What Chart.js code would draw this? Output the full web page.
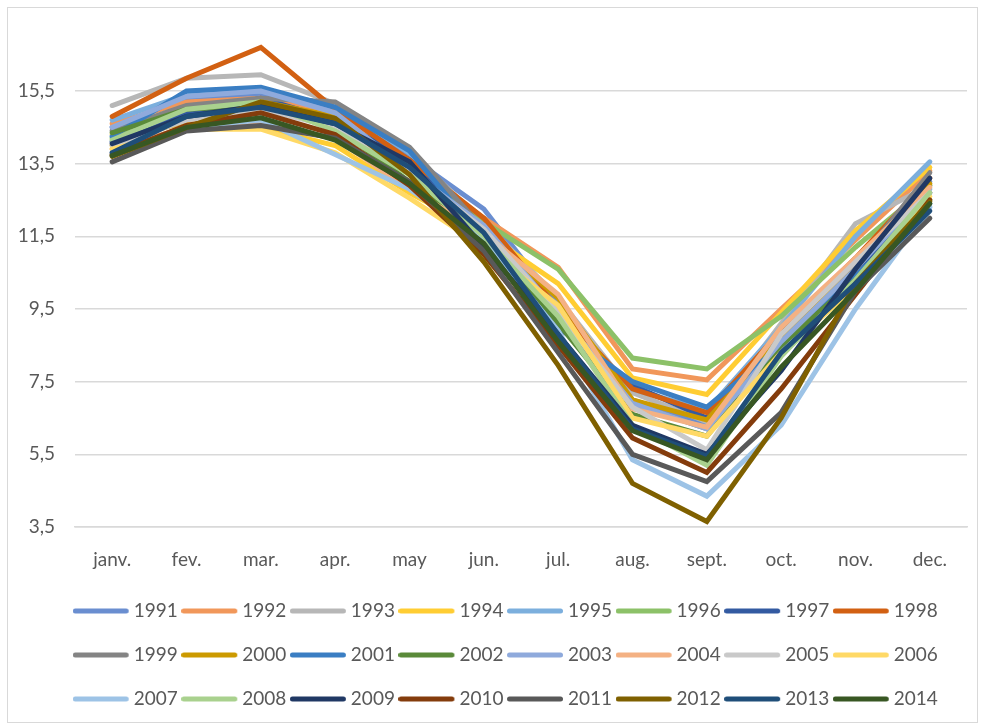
<!DOCTYPE html>
<html>
<head>
<meta charset="utf-8">
<script src="https://cdn.jsdelivr.net/npm/chart.js@4.4.1/dist/chart.umd.min.js"></script>
<style>
body{margin:0;background:#fff;}
#wrap{position:relative;width:984px;height:724px;}
#myChart{position:absolute;left:0;top:0;}
#marco{position:absolute;left:7px;top:7px;width:971px;height:716px;border:1px solid #D9D9D9;box-sizing:border-box;pointer-events:none;}
</style>
</head>
<body>
<div id="wrap">
  <canvas id="myChart" width="984" height="724"></canvas>
  <div id="marco"></div>
</div>
<script>
var meses = ['janv.', 'fev.', 'mar.', 'apr.', 'may', 'jun.', 'jul.', 'aug.', 'sept.', 'oct.', 'nov.', 'dec.'];
var anios = ['1991','1992','1993','1994','1995','1996','1997','1998','1999','2000','2001','2002',
             '2003','2004','2005','2006','2007','2008','2009','2010','2011','2012','2013','2014'];
var colores = ['#6A8ED0','#F1975A','#B7B7B7','#FFCD33','#7CAFDD','#8CC168','#335AA1','#D26012',
               '#848484','#CC9A00','#3A7EC3','#5A8A39','#8FAADC','#F4B183','#C9C9C9','#FFD966',
               '#9DC3E6','#A9D18E','#203864','#843C0C','#595959','#7F6000','#1F4E79','#385723'];
var ticksY = [3.5, 5.5, 7.5, 9.5, 11.5, 13.5, 15.5];

var v1991 = [14.5, 15.3, 15.4, 15.0, 13.7, 12.25, 9.6, 7.0, 6.3, 8.9, 10.8, 13.0];
var v1992 = [14.6, 15.2, 15.3, 14.9, 13.5, 12.0, 10.65, 7.85, 7.55, 9.5, 11.4, 13.3];
var v1993 = [15.1, 15.85, 15.95, 15.15, 13.8, 11.9, 9.8, 7.2, 6.4, 9.1, 11.85, 12.9];
var v1994 = [14.3, 14.6, 14.5, 14.0, 12.7, 11.6, 10.2, 7.6, 7.15, 9.4, 11.65, 13.4];
var v1995 = [14.7, 15.4, 15.5, 15.1, 13.8, 11.8, 9.3, 7.3, 6.7, 9.0, 11.5, 13.55];
var v1996 = [14.2, 14.9, 15.1, 14.6, 13.4, 11.9, 10.6, 8.15, 7.85, 9.3, 11.2, 12.9];
var v1997 = [14.1, 14.9, 15.3, 14.7, 13.6, 11.5, 9.0, 7.4, 6.5, 8.6, 10.5, 12.7];
var v1998 = [14.8, 15.85, 16.7, 15.0, 13.6, 12.0, 9.5, 7.3, 6.65, 8.9, 10.9, 13.1];
var v1999 = [14.4, 15.1, 15.3, 15.2, 13.95, 11.7, 9.2, 6.9, 6.2, 8.8, 10.7, 13.25];
var v2000 = [14.0, 14.7, 15.2, 14.8, 13.2, 11.6, 9.8, 7.0, 6.45, 8.7, 10.6, 12.95];
var v2001 = [14.25, 15.5, 15.6, 15.05, 13.85, 11.4, 9.0, 7.5, 6.8, 8.5, 10.4, 12.4];
var v2002 = [14.35, 15.0, 15.1, 14.5, 13.0, 11.6, 9.1, 6.6, 6.0, 8.5, 10.3, 12.5];
var v2003 = [14.5, 15.35, 15.5, 14.9, 13.3, 11.8, 9.4, 6.9, 6.2, 8.6, 10.6, 12.8];
var v2004 = [13.9, 14.5, 14.6, 14.2, 12.8, 11.6, 9.9, 6.75, 6.25, 9.0, 10.9, 12.85];
var v2005 = [14.0, 14.7, 15.0, 14.5, 13.3, 11.7, 9.4, 6.8, 5.62, 8.8, 10.8, 12.7];
var v2006 = [13.9, 14.45, 14.45, 13.8, 12.55, 11.2, 9.6, 6.5, 6.0, 8.3, 10.1, 12.6];
var v2007 = [13.8, 14.5, 14.7, 13.75, 12.8, 11.4, 8.9, 5.35, 4.35, 6.3, 9.5, 12.3];
var v2008 = [14.15, 15.0, 15.2, 14.4, 13.2, 11.5, 9.3, 6.3, 5.2, 8.2, 10.3, 12.7];
var v2009 = [14.05, 14.8, 15.1, 14.6, 13.55, 11.2, 8.8, 6.3, 5.5, 7.8, 10.6, 13.1];
var v2010 = [13.75, 14.55, 14.9, 14.3, 12.9, 11.0, 8.5, 5.95, 5.0, 7.3, 9.9, 12.5];
var v2011 = [13.55, 14.4, 14.55, 14.2, 13.0, 11.1, 8.3, 5.5, 4.75, 6.65, 10.0, 12.0];
var v2012 = [13.7, 14.5, 15.2, 14.75, 13.2, 10.8, 7.95, 4.7, 3.65, 6.5, 10.2, 12.45];
var v2013 = [13.8, 14.8, 15.05, 14.6, 13.4, 11.6, 8.8, 6.2, 5.45, 8.3, 10.2, 12.2];
var v2014 = [13.72, 14.5, 14.76, 14.15, 12.95, 11.3, 8.6, 6.15, 5.35, 7.9, 10.0, 12.4];

var series = [v1991, v1992, v1993, v1994, v1995, v1996, v1997, v1998, v1999, v2000, v2001, v2002,
              v2003, v2004, v2005, v2006, v2007, v2008, v2009, v2010, v2011, v2012, v2013, v2014];

// muestra de linea para la leyenda (mas larga que la caja)
function muestra(color){
    var c = document.createElement('canvas');
    c.width = 73; c.height = 6;
    var g = c.getContext('2d');
    g.strokeStyle = color;
    g.lineWidth = 5;
    g.lineCap = 'round';
    g.beginPath();
    g.moveTo(2.5, 3);
    g.lineTo(53.5, 3);
    g.stroke();
    return c;
}

var datasets = anios.map(function(a, i){
    return {
        label: a,
        data: series[i],
        borderColor: colores[i],
        backgroundColor: colores[i],
        borderWidth: 5,
        borderCapStyle: 'round',
        pointRadius: 0,
        tension: 0,
        order: anios.length - i
    };
});

var fuente = {family: 'Lato', size: 19};

var ctx = document.getElementById("myChart").getContext("2d");
var myChart = new Chart(ctx, {
    type: 'line',
    data: { labels: meses, datasets: datasets },
    options: {
        responsive: false,
        animation: false,
        devicePixelRatio: 1,
        layout: { padding: { left: 48, right: 0, top: 36.5, bottom: 5.5 } },
        plugins: {
            tooltip: { enabled: false },
            legend: {
                position: 'bottom',
                labels: {
                    color: '#595959',
                    font: fuente,
                    padding: 25,
                    usePointStyle: true,
                    pointStyleWidth: 30,
                    boxWidth: 30,
                    generateLabels: function(chart){
                        return chart.data.datasets.map(function(d, i){
                            return {
                                text: d.label,
                                fillStyle: d.borderColor,
                                strokeStyle: d.borderColor,
                                lineWidth: 0,
                                pointStyle: muestra(d.borderColor),
                                fontColor: '#595959',
                                hidden: false,
                                datasetIndex: i
                            };
                        });
                    }
                }
            }
        },
        scales: {
            x: {
                offset: true,
                grid: { display: false, drawTicks: false },
                border: { display: true, color: '#D9D9D9', width: 1.5 },
                ticks: { color: '#595959', font: fuente, padding: 21, maxRotation: 0 },
                afterFit: function(s){ s.height = 49.5; }
            },
            y: {
                min: 3.5,
                max: 17,
                grid: { color: '#D9D9D9', lineWidth: 1.5, drawTicks: false },
                border: { display: false },
                ticks: {
                    stepSize: 2,
                    color: '#595959',
                    font: fuente,
                    padding: 20,
                    callback: function(v){ return v.toFixed(1).replace('.', ','); }
                },
                afterBuildTicks: function(s){
                    s.ticks = ticksY.map(function(t){ return {value: t}; });
                },
                afterFit: function(s){
                    s.width = 27;
                    // las etiquetas salen del eje: no recortarlas
                    s._computeLabelArea = function(){ return undefined; };
                }
            },
            derecha: {
                position: 'right',
                display: true,
                grid: { display: false, drawTicks: false },
                border: { display: false },
                ticks: { display: false },
                afterFit: function(s){ s.width = 17; }
            }
        }
    }
});
</script>
</body>
</html>
